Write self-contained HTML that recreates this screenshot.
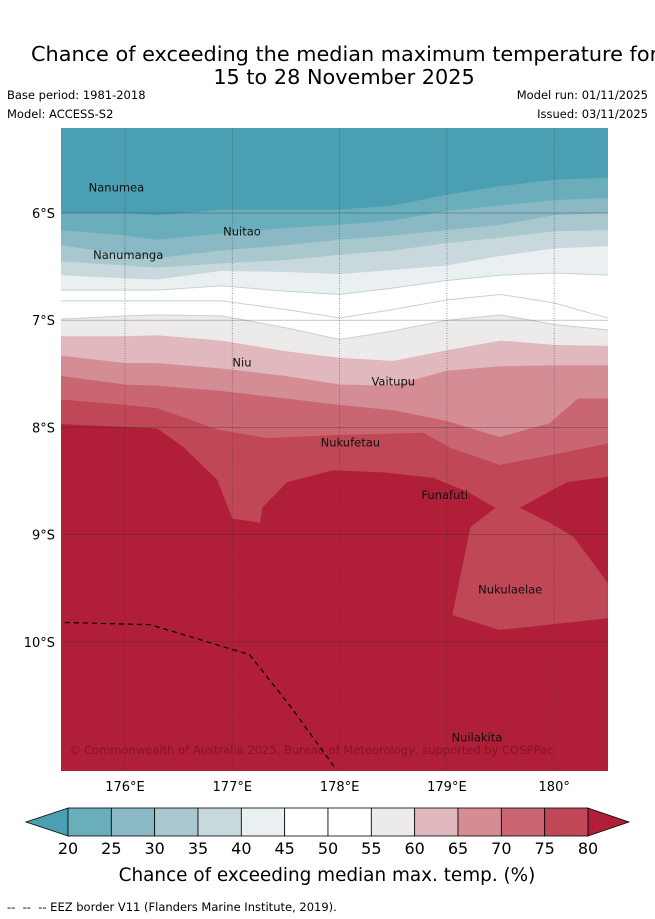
<!DOCTYPE html>
<html><head><meta charset="utf-8">
<style>
html,body{margin:0;padding:0;background:#fff;width:655px;height:919px;overflow:hidden;font-family:"DejaVu Sans","Liberation Sans",sans-serif}
svg{display:block}
</style></head>
<body>
<svg id="chart" width="655" height="919" viewBox="0 0 655 919" xmlns="http://www.w3.org/2000/svg" font-family="DejaVu Sans, Liberation Sans, sans-serif">
  <text x="31" y="61" font-size="20.8" fill="#000">Chance of exceeding the median maximum temperature for</text>
  <text x="344" y="84" font-size="20.8" fill="#000" text-anchor="middle">15 to 28 November 2025</text>
  <text x="7" y="99" font-size="11.5">Base period: 1981-2018</text>
  <text x="7" y="118" font-size="11.5">Model: ACCESS-S2</text>
  <text x="648" y="99" font-size="11.5" text-anchor="end">Model run: 01/11/2025</text>
  <text x="648" y="118" font-size="11.5" text-anchor="end">Issued: 03/11/2025</text>
  <defs><clipPath id="mapclip"><rect x="61" y="128" width="547" height="643"/></clipPath></defs>
  <g id="map" clip-path="url(#mapclip)"></g>
  <g id="axes"></g>
  <g id="cbar"></g>
  <text x="327" y="881" font-size="18.4" text-anchor="middle">Chance of exceeding median max. temp. (%)</text>
  <text x="7" y="911" font-size="11.5">-- &#160;-- &#160;-- EEZ border V11 (Flanders Marine Institute, 2019).</text>
</svg>
<script>
// ---- data ----
const levels = [20,25,30,35,40,45,50,55,60,65,70,75,80];
const bandColors = ["#4aa0b2","#6aaebb","#8ab8c4","#a8c8cd","#c9d8dd","#eaf0f2","#ffffff","#ffffff","#ecebea","#e0b8bd","#d58d95","#c96671","#bf4756","#b01e38"];
const lonTicks = [176,177,178,179,180];
const lonTickLabels = ["176°E","177°E","178°E","179°E","180°"];
const latTicks = [6,7,8,9,10];
const latTickLabels = ["6°S","7°S","8°S","9°S","10°S"];
const stdLons = [175.4,176,176.3,176.9,177.5,178,178.5,179,179.5,180,180.5];
const c20 = [6.00,6.00,6.02,5.97,5.97,5.97,5.93,5.83,5.75,5.69,5.67];
const c25 = [6.16,6.21,6.25,6.19,6.14,6.11,6.07,5.98,5.93,5.88,5.86];
const c30 = [6.30,6.39,6.42,6.35,6.30,6.25,6.21,6.16,6.11,6.02,6.00];
const c35 = [6.45,6.49,6.51,6.47,6.44,6.39,6.35,6.28,6.23,6.17,6.16];
const c40 = [6.58,6.61,6.62,6.54,6.55,6.57,6.53,6.49,6.40,6.33,6.31];
const c45 = [6.72,6.72,6.72,6.68,6.73,6.76,6.70,6.63,6.58,6.56,6.58];
const c50 = [6.82,6.82,6.82,6.82,6.90,6.98,6.90,6.81,6.76,6.84,6.98];
const c55 = [6.99,6.96,6.95,6.96,7.07,7.18,7.10,7.00,6.95,7.04,7.09];
const c60 = [7.15,7.15,7.14,7.19,7.29,7.35,7.38,7.28,7.19,7.23,7.24];
const c65 = [7.33,7.40,7.40,7.45,7.52,7.60,7.61,7.47,7.43,7.42,7.42];
const c70Lons = [175.4,176,176.3,176.9,177.5,178,178.5,179,179.49,179.96,180.22,180.5];
const c70 = [7.52,7.60,7.61,7.66,7.73,7.79,7.84,7.94,8.09,7.96,7.73,7.73];
const c75Lons = [175.4,176,176.3,176.86,177.32,178,178.78,179.03,179.49,180.12,180.5];
const c75 = [7.74,7.79,7.82,8.02,8.10,8.07,8.05,8.19,8.35,8.23,8.15];
const c80Lons = [175.4,176.3,176.54,176.86,177.0,177.26,177.28,177.51,177.94,178.4,178.87,179.19,179.45,179.68,180.12,180.5];
const c80 = [7.97,8.01,8.18,8.49,8.85,8.89,8.75,8.51,8.40,8.42,8.47,8.60,8.75,8.75,8.51,8.46];
const pocketLons = [179.45,179.68,179.96,180.18,180.5,180.5,179.49,179.05,179.22];
const pocketLats = [8.75,8.75,8.89,9.02,9.45,9.78,9.89,9.75,8.93];
const eezLons = [175.44,176.23,176.47,177.16,177.54,177.96];
const eezLats = [9.82,9.84,9.91,10.12,10.60,11.18];
const islands = ["Nanumea","Nuitao","Nanumanga","Niu","Vaitupu","Nukufetau","Funafuti","Nukulaelae","Nuilakita"];
const islandLons = [175.92,177.09,176.03,177.09,178.50,178.10,178.98,179.59,179.28];
const islandLats = [5.80,6.21,6.43,7.43,7.61,8.18,8.67,9.55,10.93];

// ---- scales ----
const px = lon => 125 + (lon - 176) * 107.3;
const py = lat => 213 + (lat - 6) * 107.2;
const NS = "http://www.w3.org/2000/svg";
const mk = (t, attrs, parent) => { const e = document.createElementNS(NS, t); for (const k in attrs) e.setAttribute(k, attrs[k]); parent.appendChild(e); return e; };
const map = document.getElementById('map');

const bg = mk('rect', {x:61,y:128,width:547,height:643,fill:bandColors[13]}, map);



function above(lons, lats) {
  let p = `${px(lons[0])-5},120 `;
  lons.forEach((l,i) => { p += `${px(l)},${py(lats[i])} `; });
  p += `${px(lons[lons.length-1])+5},${py(lats[lats.length-1])} ${px(lons[lons.length-1])+5},120`;
  return p;
}
const contours = [
  [c80Lons,c80,12],[c75Lons,c75,11],[c70Lons,c70,10],[stdLons,c65,9],[stdLons,c60,8],
  [stdLons,c55,7],[stdLons,c50,6],[stdLons,c45,5],[stdLons,c40,4],[stdLons,c35,3],
  [stdLons,c30,2],[stdLons,c25,1],[stdLons,c20,0]
];
contours.forEach(([lo,la,ci]) => {
  const poly = mk('polygon', {points: above(lo,la), fill: bandColors[ci]}, map);
  
  
  if (ci >= 5 && ci <= 7) {
    const ln = mk('polyline', {points: lo.map((l,i)=>px(l)+','+py(la[i])).join(' '), fill:'none', stroke:'#c3d3d8', 'stroke-width':1}, map);
    
    
  }
});
const pocket = mk('polygon', {points: pocketLons.map((l,i)=>px(l)+','+py(pocketLats[i])).join(' '), fill: bandColors[12]}, map);



// grid
lonTicks.forEach(l => {
  const g = mk('line', {x1:px(l),x2:px(l),y1:128,y2:771,stroke:'#333','stroke-width':0.8,'stroke-dasharray':'1,1.5','stroke-opacity':0.6}, map);
  
  
});
latTicks.forEach(l => {
  const g = mk('line', {x1:61,x2:608,y1:py(l),y2:py(l),stroke:'#333','stroke-width':0.7,'stroke-opacity':0.45}, map);
  
  
});
// EEZ
const eez = mk('polyline', {points: eezLons.map((l,i)=>px(l)+','+py(eezLats[i])).join(' '), fill:'none', stroke:'#000','stroke-width':1.2,'stroke-dasharray':'5,4'}, map);


// islands
islands.forEach((n,i) => {
  const t = mk('text', {x:px(islandLons[i]),y:py(islandLats[i]),'font-size':11.5,'text-anchor':'middle',fill:'#111'}, map);
  t.textContent = n;
  
  
});
const cr = mk('text', {x:69,y:754,'font-size':11.5,fill:'#7a1020','fill-opacity':0.8}, map);
cr.textContent = '© Commonwealth of Australia 2025, Bureau of Meteorology, supported by COSPPac';



// axis labels
const axes = document.getElementById('axes');
lonTicks.forEach((l,i) => {
  const t = mk('text', {x:px(l),y:791,'font-size':13,'text-anchor':'middle'}, axes);
  t.textContent = lonTickLabels[i];
  
  
});
latTicks.forEach((l,i) => {
  const t = mk('text', {x:55,y:py(l)+5,'font-size':13,'text-anchor':'end'}, axes);
  t.textContent = latTickLabels[i];
  
  
});

// colorbar
const cb = document.getElementById('cbar');
const cbx = v => 68 + (v - 20) / 60 * 520;
const lt = mk('polygon', {points:`26,822 ${cbx(20)},808 ${cbx(20)},836`, fill:bandColors[0], stroke:'#000','stroke-width':0.8}, cb);


const rt = mk('polygon', {points:`629,822 ${cbx(80)},808 ${cbx(80)},836`, fill:bandColors[13], stroke:'#000','stroke-width':0.8}, cb);


for (let i = 0; i < levels.length - 1; i++) {
  const r = mk('rect', {x:cbx(levels[i]),y:808,width:cbx(levels[i+1])-cbx(levels[i]),height:28,fill:bandColors[i+1],stroke:'#000','stroke-width':0.8}, cb);
  
  
}
levels.forEach(v => {
  const t = mk('text', {x:cbx(v),y:854,'font-size':16,'text-anchor':'middle'}, cb);
  t.textContent = v;
  
  
});
</script>
</body></html>
